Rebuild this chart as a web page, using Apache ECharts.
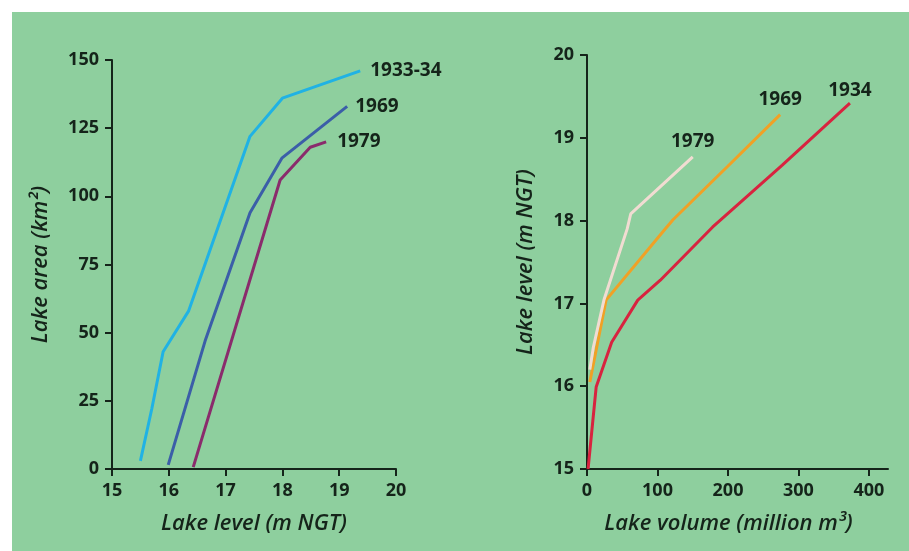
<!DOCTYPE html>
<html>
<head>
<meta charset="utf-8">
<script src="https://cdn.jsdelivr.net/npm/echarts@6/dist/echarts.min.js"></script>
<style>
  html, body { margin: 0; padding: 0; background: #fff; }
  #chart { width: 909px; height: 551px; }
</style>
</head>
<body>
<div id="chart"></div>
<script>
// left panel: lake area vs lake level
var levelTicks = [15, 16, 17, 18, 19, 20];
var areaTicks = [0, 25, 50, 75, 100, 125, 150];
var level1933 = [15.5, 15.7, 15.9, 16.35, 17.43, 18.0, 19.37];
var area1933 = [3, 22, 43, 58, 122, 136, 146];
var level1969 = [15.99, 16.64, 17.43, 17.99, 19.14];
var area1969 = [1.5, 47, 94, 114, 133];
var level1979 = [16.43, 17.96, 18.49, 18.77];
var area1979 = [0.7, 106, 118, 120];

// right panel: lake level vs lake volume
var volumeTicks = [0, 100, 200, 300, 400];
var levelTicksR = [15, 16, 17, 18, 19, 20];
var vol1934 = [1.5, 13, 35, 72, 104, 178, 277, 373];
var lvl1934 = [15.0, 15.99, 16.53, 17.04, 17.28, 17.92, 18.67, 19.42];
var vol1969 = [4, 27, 110, 122, 199, 274];
var lvl1969 = [16.05, 17.04, 17.89, 18.01, 18.65, 19.28];
var vol1979 = [4, 9, 24, 57, 62, 150];
var lvl1979 = [16.2, 16.47, 17.04, 17.9, 18.08, 18.77];

var ink = '#15241a';
var font = 'Open Sans';
var myChart = echarts.init(document.getElementById('chart'));

function pts(xs, ys, labelOpt) {
  return xs.map(function (x, i) {
    var d = { value: [x, ys[i]] };
    if (i === xs.length - 1) d.label = labelOpt;
    return d;
  });
}

function lbl(name, pos, dist) {
  return {
    show: true, position: pos, distance: dist, formatter: name,
    color: ink, fontFamily: font, fontWeight: 'bold', fontSize: 19
  };
}

function line(name, xi, yi, color, data) {
  return {
    name: name, type: 'line', xAxisIndex: xi, yAxisIndex: yi,
    data: data, showSymbol: true, symbol: 'circle', symbolSize: 0,
    lineStyle: { color: color, width: 3 }, itemStyle: { color: color },
    silent: true, z: 3
  };
}

function axisBase(min, max, interval, ticks) {
  return {
    type: 'value', min: min, max: max, interval: interval,
    splitLine: { show: false },
    axisLine: { show: true, lineStyle: { color: ink, width: 2 } },
    axisTick: { show: true, length: 7, lineStyle: { color: ink, width: 2 } },
    axisLabel: {
      color: ink, fontFamily: font, fontWeight: 'bold', fontSize: 18, margin: 13,
      formatter: function (v) { return ticks.indexOf(v) >= 0 ? String(v) : ''; }
    },
    nameLocation: 'middle',
    nameTextStyle: { color: ink, fontFamily: font, fontStyle: 'italic', fontWeight: 600, fontSize: 22 }
  };
}

var xL = axisBase(15, 20, 1, levelTicks);
xL.gridIndex = 0; xL.name = 'Lake level (m NGT)'; xL.nameGap = 44;
var yL = axisBase(0, 150, 25, areaTicks);
yL.gridIndex = 0; yL.name = 'Lake area (km²)'; yL.nameGap = 60;
var xR = axisBase(0, 427, 100, volumeTicks);
xR.gridIndex = 1; xR.name = 'Lake volume (million m³)'; xR.nameGap = 44;
xR.nameTextStyle.padding = [0, 18, 0, 0];
xR.axisLabel.showMaxLabel = false;
var yR = axisBase(15, 20, 1, levelTicksR);
yR.gridIndex = 1; yR.name = 'Lake level (m NGT)'; yR.nameGap = 50;

var options = {
  backgroundColor: '#ffffff',
  animation: false,
  graphic: [{
    type: 'rect', left: 12, top: 12, z: -10, silent: true,
    shape: { width: 897, height: 539 },
    style: { fill: '#8ecf9e' }
  }],
  grid: [
    { left: 112, top: 60, width: 284, height: 409 },
    { left: 587, top: 55, width: 301, height: 414 }
  ],
  xAxis: [xL, xR],
  yAxis: [yL, yR],
  series: [
    line('1933-34', 0, 0, '#20b2e4', pts(level1933, area1933, lbl('1933-34', 'right', 10))),
    line('1969', 0, 0, '#3b5ea8', pts(level1969, area1969, lbl('1969', 'right', 8))),
    line('1979', 0, 0, '#8a2b6c', pts(level1979, area1979, lbl('1979', 'right', 11))),
    line('1934', 1, 1, '#d8233f', pts(vol1934, lvl1934, lbl('1934', 'top', 3))),
    line('1969', 1, 1, '#f0a126', pts(vol1969, lvl1969, lbl('1969', 'top', 6))),
    line('1979', 1, 1, '#f1dcd2', pts(vol1979, lvl1979, lbl('1979', 'top', 6)))
  ]
};
myChart.setOption(options);
</script>
</body>
</html>
